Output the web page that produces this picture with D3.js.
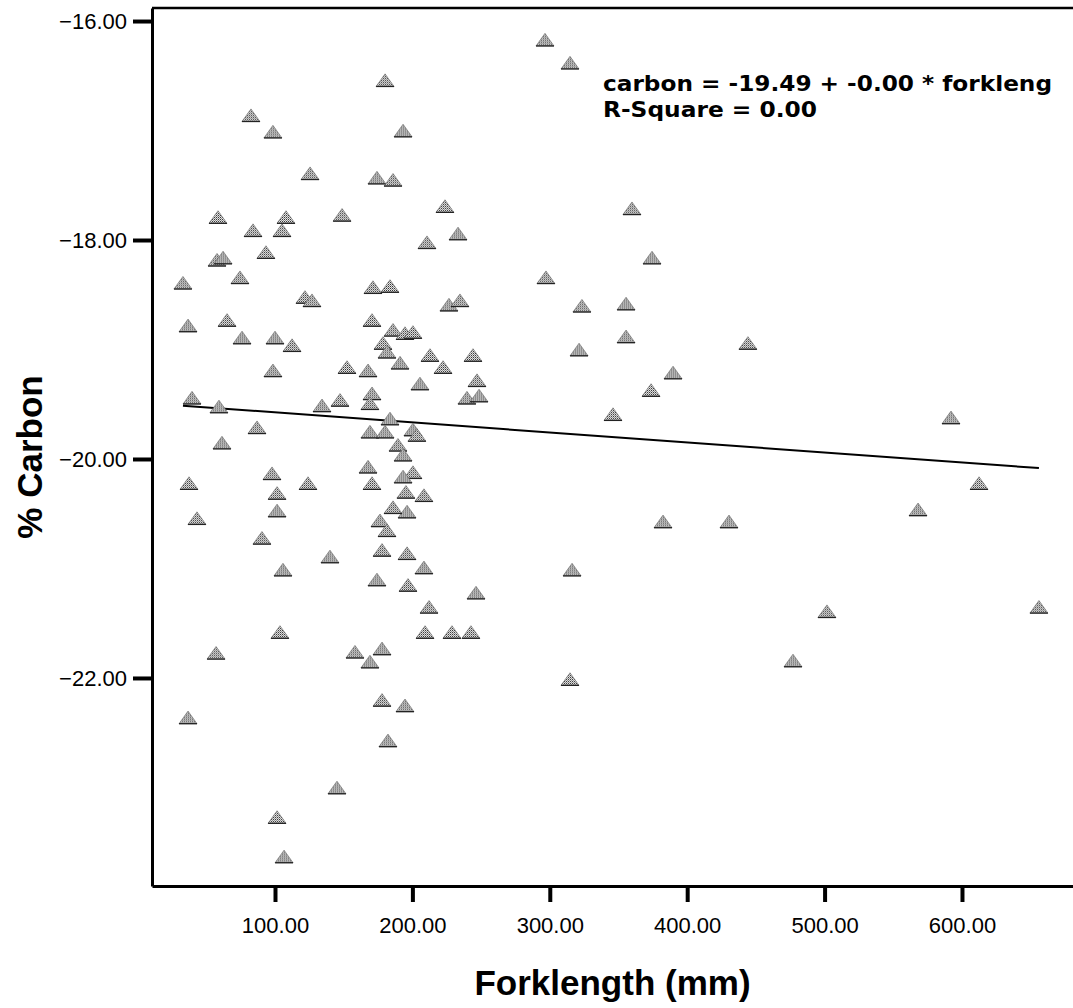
<!DOCTYPE html>
<html>
<head>
<meta charset="utf-8">
<script src="https://cdn.jsdelivr.net/npm/d3@7"></script>
<style>
  body { margin: 0; background: #fff; }
  svg { display: block; }
</style>
</head>
<body>
<svg id="chart"></svg>
<script>
// Values
const forkLength = [
  82.5, 98.5, 125.5, 58.5, 108.0, 148.8, 84.0, 105.1, 57.8, 62.2,
  93.4, 74.5, 33.0, 121.8, 126.9, 174.2, 185.9, 193.2, 180.1, 296.5,
  314.7, 171.3, 183.7, 36.7, 65.1, 76.0, 100.0, 112.4, 170.6, 185.9,
  194.6, 200.4, 178.6, 181.5, 191.0, 152.4, 167.7, 98.5, 205.5, 39.6,
  59.2, 134.2, 147.3, 170.6, 169.1, 183.7, 169.1, 180.1, 200.4, 189.5,
  193.2, 86.9, 61.4, 223.7, 233.2, 210.6, 359.8, 374.4, 297.2, 226.6,
  234.6, 323.4, 355.5, 355.5, 444.2, 321.3, 212.8, 244.1, 222.3, 247.0,
  239.7, 248.5, 389.7, 373.7, 346.0, 592.0, 203.3, 200.4, 37.4, 97.8,
  101.5, 101.5, 124.0, 43.2, 90.5, 140.0, 105.8, 103.6, 57.1, 36.7,
  145.1, 101.5, 106.6, 182.2, 177.9, 194.6, 158.2, 177.9, 169.1, 174.2,
  196.8, 177.9, 196.1, 176.4, 181.5, 196.1, 185.9, 167.7, 170.6, 193.2,
  208.4, 195.3, 208.4, 212.1, 209.2, 228.8, 242.6, 246.3, 612.4, 568.0,
  656.0, 501.7, 477.0, 430.4, 382.4, 316.2, 314.7
];
const carbon = [
  -16.86, -17.01, -17.39, -17.79, -17.79, -17.77, -17.91, -17.91, -18.18, -18.16,
  -18.11, -18.34, -18.39, -18.52, -18.55, -17.43, -17.45, -17.00, -16.54, -16.17,
  -16.38, -18.43, -18.42, -18.78, -18.73, -18.89, -18.89, -18.96, -18.73, -18.82,
  -18.85, -18.84, -18.94, -19.02, -19.12, -19.16, -19.19, -19.19, -19.31, -19.44,
  -19.52, -19.51, -19.46, -19.40, -19.49, -19.63, -19.75, -19.75, -19.73, -19.87,
  -19.96, -19.71, -19.85, -17.69, -17.94, -18.02, -17.71, -18.16, -18.34, -18.59,
  -18.55, -18.60, -18.58, -18.88, -18.94, -19.00, -19.05, -19.05, -19.16, -19.28,
  -19.44, -19.42, -19.21, -19.37, -19.59, -19.62, -19.78, -20.12, -20.22, -20.13,
  -20.31, -20.47, -20.22, -20.54, -20.72, -20.89, -21.01, -21.58, -21.77, -22.36,
  -23.00, -23.27, -23.63, -22.57, -22.20, -22.25, -21.76, -21.73, -21.85, -21.10,
  -21.15, -20.83, -20.86, -20.56, -20.65, -20.48, -20.44, -20.07, -20.22, -20.16,
  -20.99, -20.30, -20.33, -21.35, -21.58, -21.58, -21.58, -21.22, -20.22, -20.46,
  -21.35, -21.39, -21.84, -20.57, -20.57, -21.01, -22.01
];
const xTicks = [100, 200, 300, 400, 500, 600];
const yTicks = [-16, -18, -20, -22];

// linear fit shown in the plot
const fitIntercept = -19.483;
const fitSlope = -0.000915;
const fitLabel = "carbon = -19.49 + -0.00 * forkleng";
const r2Label = "R-Square = 0.00";
const xTitle = "Forklength (mm)";
const yTitle = "% Carbon";

const svgWidth = 1073;
const svgHeight = 1008;
const plotLeft = 152;
const plotRight = 1073;
const plotTop = 8;
const plotBottom = 886;

const svg = d3.select("#chart")
  .attr("width", svgWidth)
  .attr("height", svgHeight)
  .style("font-family", "'Liberation Sans', Arial, sans-serif");

// dithered fill for the triangle markers
const pat = svg.append("defs").append("pattern")
  .attr("id", "dither")
  .attr("width", 2)
  .attr("height", 2)
  .attr("patternUnits", "userSpaceOnUse");
pat.append("rect").attr("width", 2).attr("height", 2).attr("fill", "#e6e6e6");
pat.append("rect").attr("width", 1).attr("height", 1).attr("fill", "#333");
pat.append("rect").attr("x", 1).attr("y", 1).attr("width", 1).attr("height", 1).attr("fill", "#888");

const x = d3.scaleLinear()
  .domain([10.48, 680.8])
  .range([plotLeft, plotRight]);

const y = d3.scaleLinear()
  .domain([-23.90, -15.881])
  .range([plotBottom, plotTop]);

// top frame line
svg.append("line")
  .attr("x1", plotLeft).attr("x2", plotRight)
  .attr("y1", plotTop).attr("y2", plotTop)
  .attr("stroke", "#000")
  .attr("stroke-width", 2.5);

// x axis
const xAxis = svg.append("g")
  .attr("transform", "translate(0," + plotBottom + ")")
  .call(d3.axisBottom(x)
    .tickValues(xTicks)
    .tickFormat(d3.format(".2f"))
    .tickSize(16)
    .tickSizeOuter(0));
xAxis.select(".domain").attr("stroke-width", 3);
xAxis.selectAll(".tick line").attr("stroke-width", 4);
xAxis.selectAll(".tick text")
  .attr("y", 47)
  .attr("dy", null)
  .attr("fill", "#000")
  .style("font-size", "22px");

// y axis
const yAxis = svg.append("g")
  .attr("transform", "translate(" + plotLeft + ",0)")
  .call(d3.axisLeft(y)
    .tickValues(yTicks)
    .tickFormat(d3.format(".2f"))
    .tickSize(19)
    .tickSizeOuter(0));
yAxis.select(".domain").attr("stroke-width", 3);
yAxis.selectAll(".tick line").attr("stroke-width", 4);
yAxis.selectAll(".tick text")
  .attr("x", -25)
  .attr("dy", "0.33em")
  .attr("fill", "#000")
  .style("font-size", "22px");

// axis titles
svg.append("text")
  .attr("x", (plotLeft + plotRight) / 2)
  .attr("y", 995)
  .attr("text-anchor", "middle")
  .style("font-size", "35px")
  .style("font-weight", "bold")
  .text(xTitle);

svg.append("text")
  .attr("transform", "translate(42," + 457 + ") rotate(-90)")
  .attr("text-anchor", "middle")
  .style("font-size", "35px")
  .style("font-weight", "bold")
  .text(yTitle);

// fit line across the data range
const xExtent = d3.extent(forkLength);
const line = d3.line()
  .x(d => x(d))
  .y(d => y(fitIntercept + fitSlope * d));

svg.append("path")
  .datum(xExtent)
  .attr("fill", "none")
  .attr("stroke", "#000")
  .attr("stroke-width", 2)
  .attr("d", line);

// triangle markers
const triangle = {
  draw(context, size) {
    const w = Math.sqrt(size);
    const h = w * 0.7;
    context.moveTo(0, -h / 2);
    context.lineTo(w / 2, h / 2);
    context.lineTo(-w / 2, h / 2);
    context.closePath();
  }
};

const points = forkLength.map((d, i) => ({fork: d, carbon: carbon[i]}));

const marks = svg.append("g")
  .selectAll("g")
  .data(points)
  .join("g")
  .attr("transform", d => "translate(" + x(d.fork) + "," + y(d.carbon) + ")");

marks.append("path")
  .attr("d", d3.symbol().type(triangle).size(324))
  .attr("fill", "url(#dither)")
  .attr("stroke", "#666")
  .attr("stroke-width", 0.6);

marks.append("line")
  .attr("x1", -9).attr("x2", 9)
  .attr("y1", 6.3).attr("y2", 6.3)
  .attr("stroke", "#222")
  .attr("stroke-width", 1.3);

// equation labels
svg.append("text")
  .attr("x", 603)
  .attr("y", 91)
  .attr("textLength", 449)
  .attr("lengthAdjust", "spacingAndGlyphs")
  .style("font-family", "'DejaVu Sans', sans-serif")
  .style("font-size", "22px")
  .style("font-weight", "bold")
  .text(fitLabel);

svg.append("text")
  .attr("x", 603)
  .attr("y", 117)
  .attr("textLength", 214)
  .attr("lengthAdjust", "spacingAndGlyphs")
  .style("font-family", "'DejaVu Sans', sans-serif")
  .style("font-size", "22px")
  .style("font-weight", "bold")
  .text(r2Label);
</script>
</body>
</html>
